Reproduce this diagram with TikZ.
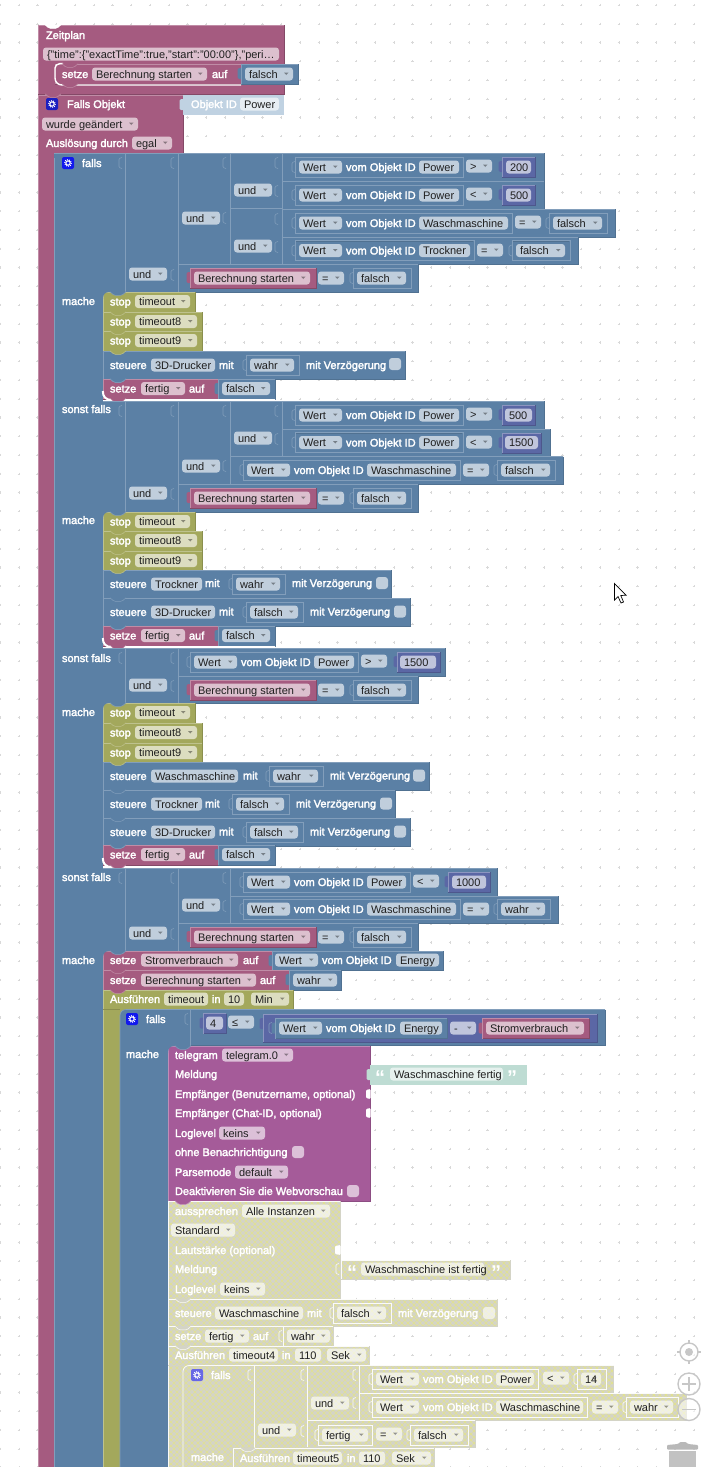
\documentclass[tikz,border=0pt]{standalone}
\usepackage{fontspec}
\setmainfont{Liberation Sans}
\newfontfamily\labfont[FakeBold=2.5]{Liberation Sans}
\usetikzlibrary{patterns.meta}
\definecolor{cpink}{HTML}{A55B80}
\definecolor{cblue}{HTML}{5B80A5}
\definecolor{colive}{HTML}{A3A85C}
\definecolor{cmag}{HTML}{A55B99}
\definecolor{cpur}{HTML}{5B67A5}
\definecolor{cdis}{HTML}{D4D4C6}
\definecolor{chat}{HTML}{E2E290}
\definecolor{cteal}{HTML}{BEDCD3}
\definecolor{cid}{HTML}{C0D2E2}
\definecolor{cw}{HTML}{FFFFFF}
\colorlet{cpinkL}{cpink!70!white}\colorlet{cpinkD}{cpink!80!black}
\colorlet{cblueL}{cblue!76!white}\colorlet{cblueD}{cblue!88!black}
\colorlet{coliveL}{colive!70!white}\colorlet{coliveD}{colive!85!black}
\colorlet{cmagL}{cmag!70!white}\colorlet{cmagD}{cmag!85!black}
\colorlet{cpurL}{cpur!70!white}\colorlet{cpurD}{cpur!85!black}
\colorlet{cdisL}{white!90!cdis}\colorlet{cdisD}{cdis}
\colorlet{ctealL}{cteal}\colorlet{ctealD}{cteal}
\colorlet{cidL}{cid}\colorlet{cidD}{cid}
\colorlet{cwL}{white}
\colorlet{ol}{cblueL}
\colorlet{old}{cblueD}
\colorlet{ink}{black!88}
\newcounter{nn}
\tikzset{
  every node/.style={font=\fontsize{11}{13}\selectfont,inner sep=0pt,outer sep=0pt},
  lab/.style={anchor=base west,text=white,font=\fontsize{11}{13}\selectfont\labfont},
  fldtxt/.style={anchor=base west,text=ink},
  pil/.style={fill=white,fill opacity=.62,rounded corners=3},
  fp/cdis/.style={postaction={pattern={Lines[angle=45,distance=4.2426pt,line width=.7pt]},pattern color=chat},
                  postaction={pattern={Lines[angle=-45,distance=4.2426pt,line width=.7pt]},pattern color=chat}},
}
\newcommand\T[3]{\stepcounter{nn}\node[lab] (n\arabic{nn}) at (#1,#2+4) {#3};}
\newcommand\G[4]{\fill[pil] (#1,#3-6.5) rectangle (#2,#3+6.5);\stepcounter{nn}\node[fldtxt] (n\arabic{nn}) at (#1+4,#3+4) {#4};}
\newcommand\F[4]{\G{#1}{#2}{#3}{#4}\fill[black,opacity=.38] (#2-9,#3-1.5) -- (#2-4.5,#3-1.5) -- (#2-6.75,#3+1) -- cycle;}
\newcommand\C[2]{\fill[pil] (#1,#2-6) rectangle (#1+12,#2+6);}
\newcommand\B[5]{\path[fill=#5,fp/#5/.try] (#1,#2) rectangle (#3,#4);
  \draw[#5D,line width=.6] (#3,#2) -- (#3,#4) -- (#1,#4);
  \draw[#5L,line width=.6] (#1,#4) -- (#1,#2) -- (#3,#2);}
\newcommand\V[5]{\fill[#5,rounded corners=1.5] (#1+1,#2+4) -- (#1-3.5,#2+4) -- (#1-3.5,#2+15) -- (#1+1,#2+15) -- cycle;\B{#1}{#2}{#3}{#4}{#5}}
\newcommand\nt[2]{\draw[ol,line width=.6,rounded corners=1] (#1,#2-5.5) -- (#1-3,#2-4.5) -- (#1-3,#2+4.5) -- (#1,#2+5.5);}
\newcommand\Ol[3]{\draw[old,line width=.6] (#1+.7,#2+9.3) -- (#1+.7,#2-9.3) -- (#3-.7,#2-9.3);\draw[ol,line width=.7] (#1,#2-10) rectangle (#3,#2+10);\nt{#1}{#2}}
\newcommand\wert[4]{\Ol{#1}{#2}{#3}\F{#1+4}{#1+47}{#2}{Wert}\T{#1+51}{#2}{vom Objekt ID}\G{#1+124}{#3-4}{#2}{#4}}
\newcommand\op[3]{\F{#1}{#1+26}{#2}{#3}}
\newcommand\bval[4]{\Ol{#1}{#3}{#2}\F{#1+4}{#2-5}{#3}{#4}}
\newcommand\bs[1]{\V{190}{#1-10}{316}{#1+10}{cpink}\F{194}{310}{#1}{Berechnung starten}\op{318}{#1}{=}\bval{353}{411}{#1}{falsch}}
\newcommand\und[3]{\F{#1}{#1+38}{#2}{#3}}
\newcommand\tb[3]{\path[fill=#3,draw=#3L,line width=.5,rounded corners=1.5] (#1+7,#2-.3) -- (#1+11,#2+3.4) -- (#1+19,#2+3.4) -- (#1+23,#2-.3);}
\newcommand\rc[3]{\fill[#3] (#1,#2) -- (#1+7,#2) .. controls (#1+2,#2) and (#1,#2+2) .. (#1,#2+7) -- cycle;}
\newcommand\wc[3]{\draw[white,line width=2] (#1-.2,#2-8) .. controls (#1-.2,#2-2) and (#1+3,#2+1) .. (#1+9,#2+1) -- (#3,#2+1);}
\newcommand\stops[4]{
  \B{103}{#1}{195}{#2}{colive}\T{110}{#1+9.5}{stop}\F{135}{190}{#1+9.5}{timeout}
  \B{103}{#2}{202}{#3}{colive}\T{110}{#2+9.5}{stop}\F{135}{197}{#2+9.5}{timeout8}
  \B{103}{#3}{202}{#4}{colive}\T{110}{#3+9.5}{stop}\F{135}{197}{#3+9.5}{timeout9}
  \rc{103}{#1}{cblue}\tb{103}{#1}{cblue}\tb{103}{#2}{colive}\tb{103}{#3}{colive}}
\newcommand\setzef[1]{\B{103}{#1}{218}{#1+20}{cpink}\T{110}{#1+9.5}{setze}\F{141}{185}{#1+9.5}{fertig}\T{189}{#1+9.5}{auf}
  \V{218}{#1}{275}{#1+20}{cblue}\F{222}{270}{#1+9.5}{falsch}\tb{103}{#1}{cblue}}
\newcommand\gear[3]{\fill[#3,rounded corners=2] (#1-6,#2-6) rectangle (#1+6,#2+6);
  \draw[white,line width=1.1] (#1,#2) circle (2.2);
  \draw[white,line width=1,dash pattern=on .9pt off 1.2pt] (#1,#2) circle (3.4);}
\newcommand\stx[4]{\B{103}{#1}{#2}{#1+28}{cblue}\T{110}{#1+14}{steuere}\G{151}{#3}{#1+14}{#4}}
\newcommand\dq[3]{\stepcounter{nn}\node[anchor=base west,text=white,font=\fontsize{20}{20}\selectfont\bfseries] (n\arabic{nn}) at (#1,#2+21) {#3};}
\begin{document}
\begin{tikzpicture}[x=1pt,y=-1pt]
\useasboundingbox (0,0) rectangle (706,1467);
\fill[white] (0,0) rectangle (706,1467);
% background grid
\foreach \i in {0,...,37}{\foreach \j in {0,...,78}{
  \draw[black!15,line width=.4] ({18.75*\i-1.2},{5+18.75*\j}) -- ++(2.4,0) ({18.75*\i},{3.8+18.75*\j}) -- ++(0,2.4);}}
% ---- Zeitplan
\B{38}{25}{284}{94}{cpink}
\T{46}{35}{Zeitplan}
\G{43}{279}{54}{\{"time":\{"exactTime":true,"start":"00:00"\},"peri…}
\B{55}{64}{241}{84}{cpink}
\T{62}{74}{setze}\F{92}{207}{74}{Berechnung starten}\T{212}{74}{auf}
\V{241}{64}{298}{84}{cblue}\F{245}{293}{74}{falsch}
\draw[white,line width=1.4] (63,63.5) -- (60,63.5) .. controls (57,63.5) and (55,66) .. (55,68) -- (55,78) .. controls (55,82) and (58,85) .. (62,85) -- (241,85);
\tb{55}{64}{cpink}\tb{55}{84}{cpink}\tb{38}{25}{cw}
% ---- Falls Objekt
\B{38}{95}{183}{153}{cpink}
\fill[cpink] (38,150) rectangle (54,1467);
\draw[cpinkL,line width=.6] (38,95) -- (38,1467);
\tb{38}{94}{cpink}
\gear{52}{104}{black!20!blue!70!cpur}
\T{67}{104}{Falls Objekt}
\V{183}{95}{283}{114}{cid}\T{191}{104}{Objekt ID}\G{240}{279}{104}{Power}
\F{42}{138}{124}{wurde geändert}
\T{46}{143}{Auslösung durch}\F{132}{172}{143}{egal}
% ---- big falls
\fill[cblue] (54,153) rectangle (103,1467);
\fill[cblue,rounded corners=3] (54,153) rectangle (66,170);
\draw[cblueL,line width=.6] (54,158) -- (54,1467);
\gear{68}{163}{blue!80!cblue}
\T{82}{163}{falls}
% branch 1
\fill[cblue] (103,153) rectangle (125,292);\draw[cblueL,line width=.6] (54,153) -- (125,153);\draw[cblueL,line width=.6] (125,153) -- (125,292);
\B{125}{153}{178}{292}{cblue}\B{178}{153}{230}{264}{cblue}
\B{230}{153}{282}{208.5}{cblue}\B{230}{208.5}{282}{264}{cblue}
\B{282}{153}{544}{181}{cblue}\B{282}{181}{544}{209}{cblue}\B{282}{209}{615}{237}{cblue}\B{282}{237}{578}{264.5}{cblue}\B{178}{264.5}{418}{292}{cblue}
\nt{122}{163}\nt{174}{163}\nt{226}{163}\nt{278}{163}\nt{278}{191}\nt{278}{219}\nt{278}{247}\nt{226}{218}\nt{174}{275}
\und{129}{274}{und}\und{182}{218}{und}\und{234}{190}{und}\und{234}{246}{und}
\wert{295}{167}{463}{Power}\op{466}{166}{>}\V{502}{157}{535}{177}{cpur}\G{506}{531}{167}{200}
\wert{295}{195}{463}{Power}\op{466}{194}{<}\V{502}{185}{535}{205}{cpur}\G{506}{531}{195}{500}
\wert{295}{223}{512}{Waschmaschine}\op{515}{222}{=}\bval{549}{607}{223}{falsch}
\wert{295}{250.5}{474}{Trockner}\op{477}{250}{=}\bval{512}{570}{250.5}{falsch}
\bs{278}
\T{62}{301}{mache}
\stops{292}{312}{331}{351}
\stx{351}{405}{215}{3D-Drucker}\T{219}{365}{mit}\bval{246}{299}{365}{wahr}\T{306}{365}{mit Verzögerung}\C{389}{364}
\setzef{379}\tb{103}{351}{colive}\tb{103}{379}{cblue}
\wc{103}{399}{275}\tb{103}{398.5}{cpink}
% branch 2
\fill[cblue] (103,401) rectangle (125,512);\draw[cblueL,line width=.6] (103,401) -- (125,401);\draw[cblueL,line width=.6] (125,401) -- (125,512);
\T{62}{409}{sonst falls}
\B{125}{401}{178}{512}{cblue}\B{178}{401}{230}{484}{cblue}\B{230}{401}{282}{456.5}{cblue}
\B{282}{401}{544}{429}{cblue}\B{282}{429}{550}{456.5}{cblue}\B{230}{456.5}{563}{484}{cblue}\B{178}{484}{418}{512}{cblue}
\nt{122}{411}\nt{174}{411}\nt{226}{411}\nt{278}{411}\nt{278}{439}\nt{226}{466}\nt{174}{494}
\und{129}{493}{und}\und{182}{466}{und}\und{234}{438}{und}
\wert{295}{415}{463}{Power}\op{466}{414}{>}\V{502}{405}{535}{425}{cpur}\G{505}{532}{415}{500}
\wert{295}{442.5}{463}{Power}\op{466}{442}{<}\V{502}{433}{541}{453}{cpur}\G{505}{538}{442.5}{1500}
\wert{243}{470}{460}{Waschmaschine}\op{463}{470}{=}\bval{497}{555}{470}{falsch}
\bs{498}
\T{62}{520}{mache}
\stops{512}{531}{551}{570}
\stx{570}{391}{202}{Trockner}\T{205}{583}{mit}\bval{232}{285}{584}{wahr}\T{292}{583}{mit Verzögerung}\C{376}{583}
\stx{598}{410}{215}{3D-Drucker}\T{219}{611.5}{mit}\bval{246}{303}{612}{falsch}\T{310}{611.5}{mit Verzögerung}\C{394}{611.5}
\setzef{626}\tb{103}{570}{colive}\tb{103}{598}{cblue}\tb{103}{626}{cblue}
\wc{103}{646}{275}\tb{103}{645.5}{cpink}
% branch 3
\fill[cblue] (103,648) rectangle (125,703);\draw[cblueL,line width=.6] (103,648) -- (125,648);\draw[cblueL,line width=.6] (125,648) -- (125,703);
\T{62}{658}{sonst falls}
\B{125}{648}{178}{703}{cblue}\B{178}{648}{445}{676}{cblue}\B{178}{676}{418}{703}{cblue}
\nt{122}{658}\nt{174}{658}\nt{174}{686}
\und{129}{685}{und}
\wert{190}{662}{358}{Power}\op{361}{661}{>}\V{397}{652}{440}{672}{cpur}\G{400}{436}{662}{1500}
\bs{690}
\T{62}{712}{mache}
\stops{703}{723}{743}{762}
\stx{762}{429}{238}{Waschmaschine}\T{243}{775.5}{mit}\bval{269}{323}{776}{wahr}\T{330}{775.5}{mit Verzögerung}\C{413}{775.5}
\stx{790}{395}{202}{Trockner}\T{205}{803.5}{mit}\bval{232}{289}{804}{falsch}\T{296}{803.5}{mit Verzögerung}\C{380}{803.5}
\stx{818}{410}{215}{3D-Drucker}\T{219}{831.5}{mit}\bval{246}{303}{832}{falsch}\T{310}{831.5}{mit Verzögerung}\C{394}{831.5}
\setzef{845}\tb{103}{762}{colive}\tb{103}{790}{cblue}\tb{103}{818}{cblue}\tb{103}{845}{cblue}
\wc{103}{866}{275}\tb{103}{865}{cpink}
% branch 4
\fill[cblue] (103,868) rectangle (125,951);\draw[cblueL,line width=.6] (103,868) -- (125,868);\draw[cblueL,line width=.6] (125,868) -- (125,951);
\T{62}{877}{sonst falls}
\B{125}{868}{178}{951}{cblue}\B{178}{868}{230}{923.5}{cblue}
\B{230}{868}{497}{896}{cblue}\B{230}{896}{558}{923.5}{cblue}\B{178}{923.5}{418}{951}{cblue}
\nt{122}{878}\nt{174}{878}\nt{226}{878}\nt{226}{906}\nt{174}{934}
\und{129}{933}{und}\und{182}{905}{und}
\wert{243}{882}{410}{Power}\op{413}{881}{<}\V{448}{872}{490}{892}{cpur}\G{452}{486}{882}{1000}
\wert{243}{909}{460}{Waschmaschine}\op{463}{909}{=}\bval{497}{550}{909}{wahr}
\bs{937}
\T{62}{960}{mache}
\B{103}{951}{272}{970}{cpink}\T{110}{960}{setze}\F{141}{238}{960}{Stromverbrauch}\T{243}{960}{auf}
\V{272}{951}{443}{970}{cblue}\F{275}{318}{960}{Wert}\T{322}{960}{vom Objekt ID}\G{396}{439}{960}{Energy}
\B{103}{970}{289}{990}{cpink}\T{110}{980}{setze}\F{141}{256}{980}{Berechnung starten}\T{260}{980}{auf}
\V{289}{970}{341}{990}{cblue}\F{293}{337}{980}{wahr}
\rc{103}{951}{cblue}
\fill[colive] (103,990) rectangle (120,1467);\draw[coliveL,line width=.6] (103,990) -- (103,1467);
\B{103}{990}{293}{1009}{colive}\T{110}{999}{Ausführen}\G{164}{208}{999}{timeout}\T{212}{999}{in}\G{224}{244}{999}{10}\F{251}{289}{999}{Min}
\tb{103}{951}{cblue}\tb{103}{970}{cpink}\tb{103}{990}{cpink}
% falls in Ausfuehren
\fill[cblue] (120,1009.5) rectangle (168,1467);
\fill[colive] (120,1009) rectangle (127,1016);
\fill[cblue,rounded corners=6] (120,1009.5) rectangle (135,1030);
\draw[cblueL,line width=.6,rounded corners=6] (120,1467) -- (120,1009.5) -- (150,1009.5);
\B{190}{1009.5}{605}{1045.5}{cblue}
\fill[cblue] (150,1009.5) rectangle (190,1045.5);\draw[cblueL,line width=.6] (150,1009.5) -- (190,1009.5);\draw[cblueL,line width=.6] (190,1009.5) -- (190,1045);
\gear{132}{1019}{blue!80!cblue}
\T{146}{1019}{falls}\T{126}{1054}{mache}
\nt{188}{1019}
\V{203}{1013.5}{226}{1033.5}{cpur}\G{206}{223}{1023}{4}
\op{228}{1022}{≤}
\V{263}{1014}{597}{1042}{cpur}
\V{275}{1018.5}{447}{1038.5}{cblue}\nt{272}{1028}
\F{279}{322}{1028}{Wert}\T{326}{1028}{vom Objekt ID}\G{400}{442}{1028}{Energy}
\op{450}{1028}{-}
\V{482}{1018.5}{589}{1038.5}{cpink}\F{486}{584}{1028}{Stromverbrauch}
% telegram
\B{168}{1046}{370}{1201}{cmag}
\rc{168}{1046}{cblue}\tb{168}{1046}{cblue}
\T{175}{1055}{telegram}\F{222}{293}{1055}{telegram.0}
\T{175}{1074}{Meldung}
\T{175}{1094}{Empfänger (Benutzername, optional)}
\T{175}{1113}{Empfänger (Chat-ID, optional)}
\T{175}{1133}{Loglevel}\F{219}{265}{1133}{keins}
\T{175}{1152}{ohne Benachrichtigung}\C{292}{1152}
\T{175}{1172}{Parsemode}\F{235}{288}{1172}{default}
\T{175}{1191}{Deaktivieren Sie die Webvorschau}\C{347}{1191}
\fill[white,rounded corners=1] (370.5,1089) -- (366,1090) -- (366,1098) -- (370.5,1099) -- cycle;
\fill[white,rounded corners=1] (370.5,1108) -- (366,1109) -- (366,1117) -- (370.5,1118) -- cycle;
\V{370}{1065}{526}{1084}{cteal}
\dq{375}{1063}{“}\G{390}{503}{1074}{Waschmaschine fertig}\dq{507}{1063}{”}
% disabled part
\colorlet{ol}{cdisL}\colorlet{old}{cdisL}
\B{168}{1201}{340}{1299}{cdis}
\T{175}{1211}{aussprechen}\F{242}{330}{1211}{Alle Instanzen}
\F{171}{235}{1230}{Standard}
\T{175}{1250}{Lautstärke (optional)}
\fill[white,rounded corners=1] (340.5,1245) -- (335,1246) -- (335,1254) -- (340.5,1255) -- cycle;
\T{175}{1269}{Meldung}
\T{175}{1289}{Loglevel}\F{220}{265}{1289}{keins}
\nt{339}{1269}
\B{341}{1260}{510}{1279}{cdis}
\dq{347}{1258}{“}\G{361}{484}{1269}{Waschmaschine ist fertig}\dq{491}{1258}{”}
\B{168}{1299}{497}{1326.5}{cdis}
\T{175}{1313}{steuere}\G{215}{303}{1313}{Waschmaschine}\T{307}{1313}{mit}\bval{333}{391}{1313}{falsch}\T{398}{1313}{mit Verzögerung}\C{483}{1313}
\B{168}{1326.5}{333}{1346}{cdis}
\T{175}{1336}{setze}\F{205}{249}{1336}{fertig}\T{253}{1336}{auf}\nt{282}{1336}\draw[ol,line width=.6] (283,1327) -- (283,1346);\F{287}{330}{1336}{wahr}
\path[fill=cdis,fp/cdis] (168,1346) rectangle (183,1467);
\draw[cdisL,line width=.6] (168,1346) -- (168,1467);
\B{168}{1346}{369}{1365}{cdis}
\T{175}{1355}{Ausführen}\G{229}{278}{1355}{timeout4}\T{282}{1355}{in}\G{295}{321}{1355}{110}\F{327}{366}{1355}{Sek}
\tb{168}{1201}{cmag}\tb{168}{1299}{cdis}\tb{168}{1326.5}{cdis}\tb{168}{1346}{cdis}
% nested falls
\path[fill=cdis,fp/cdis] (183,1365) rectangle (254,1467);
\draw[cdisL,line width=.8,rounded corners=6] (183,1467) -- (183,1365.5) -- (254,1365.5);
\B{254}{1365.5}{307}{1448}{cdis}\B{307}{1365.5}{359}{1420}{cdis}
\B{359}{1365.5}{613}{1393}{cdis}\B{359}{1393.5}{686}{1420}{cdis}\B{307}{1420}{475}{1447}{cdis}
\draw[cdisL,line width=.8] (254,1365.5) -- (254,1448);
\gear{197}{1375}{blue!55!white!90!black}
\T{211}{1375}{falls}
\nt{251}{1375}\nt{304}{1375}\nt{356}{1375}\nt{356}{1403}\nt{304}{1431}
\und{258}{1430}{und}\und{311}{1403}{und}
\wert{372}{1379}{538}{Power}\op{543}{1378}{<}\bval{577}{606}{1379}{14}
\wert{372}{1407}{587}{Waschmaschine}\op{592}{1407}{=}\bval{626}{678}{1407}{wahr}
\Ol{318}{1435}{372}\F{322}{368}{1435}{fertig}\op{376}{1434}{=}\bval{410}{468}{1435}{falsch}
\T{191}{1457}{mache}
\B{233}{1448}{434}{1467.5}{cdis}\T{240}{1458}{Ausführen}\G{293}{342}{1458}{timeout5}\T{347}{1458}{in}\G{359}{385}{1458}{110}\F{392}{431}{1458}{Sek}
\tb{233}{1448}{cdis}
% workspace controls
\draw[black!22,line width=1.4,fill=white,fill opacity=.55] (689,1352) circle (9);
\fill[black!22] (689,1352) circle (4);
\draw[black!22,line width=1.2] (689,1340) -- (689,1343) (689,1361) -- (689,1364) (677,1352) -- (680,1352) (698,1352) -- (701,1352);
\draw[black!22,line width=1.4,fill=white,fill opacity=.55] (689,1384) circle (11);
\draw[black!22,line width=1.6] (682,1384) -- (696,1384) (689,1377) -- (689,1391);
\draw[black!22,line width=1.4,fill=white,fill opacity=.55] (689,1409.5) circle (11);
\draw[black!22,line width=1.6] (682,1409.5) -- (696,1409.5);
\fill[black!28,rounded corners=1] (667,1449.5) -- (667,1445) -- (678,1444) -- (680,1442) -- (686,1442) -- (688,1444) -- (698,1445) -- (698,1449.5) -- cycle;
\fill[black!24] (669,1451) rectangle (696,1467);
% cursor
\draw[black,fill=white,line width=.7,line join=miter] (614.5,583.5) -- (614.5,600) -- (618,596.5) -- (621,603) -- (623.5,602) -- (620.8,595.5) -- (626,595.2) -- cycle;
\end{tikzpicture}
\end{document}
